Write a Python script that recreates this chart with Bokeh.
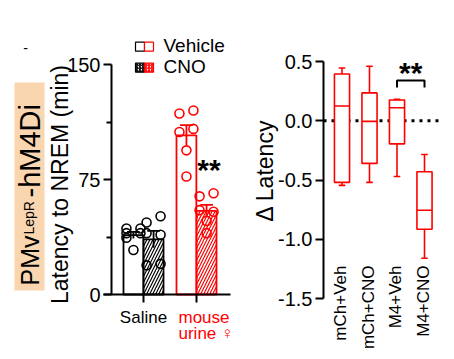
import numpy as np
from bokeh.plotting import figure
from bokeh.models import Range1d, FixedTicker, LinearAxis, PrintfTickFormatter
from bokeh.core.properties import value
from bokeh.embed import file_html
from bokeh.resources import INLINE

# ---------------- data: left panel ----------------
groups = ["Saline", "mouse", "urine \u2640"]
treatments = ["Vehicle", "CNO"]
saline_vehicle = [40, 43, 43, 40, 37, 29]
saline_cno = [47, 51, 40, 39, 19, 20]
urine_vehicle = [118, 120, 106, 108, 94, 77]
urine_cno = [64, 66, 55, 54, 48, 40]
left_yticks = [0, 75, 150]
left_minor = [37.5, 112.5]
left_ylabel = "Latency to NREM (min)"

# ---------------- data: right panel ----------------
box_labels = ["mCh+Veh", "mCh+CNO", "M4+Veh", "M4+CNO"]
box_hi = [0.445, 0.46, 0.18, -0.285]
box_q3 = [0.395, 0.235, 0.175, -0.43]
box_med = [0.125, -0.005, 0.11, -0.755]
box_q1 = [-0.52, -0.36, -0.195, -0.915]
box_lo = [-0.545, -0.52, -0.47, -1.16]
right_yticks = [-1.5, -1.0, -0.5, 0.0, 0.5]
right_ylabel = "\u0394 Latency"

RED = "#FF0000"
BLACK = "#000000"
FONT = "Liberation Sans"

W, H = 450, 355            # figure = frame; page body has no margin here
PX0, PY0 = 0, 0

# left panel: page px -> data
LX0, LDX = 143.0, 53.0
LY0, LDY = 294.0, 230.0 / 150.0
def lx(px): return 1 + (px - LX0) / LDX
def ly(py): return (LY0 - py) / LDY

# right panel: page px -> data
RX0, RDX = 341.5, 27.5
RY0, RDY = 120.25, 118.5
def rx(px): return 1 + (px - RX0) / RDX
def ry(py): return (RY0 - py) / RDY

p = figure(width=W, height=H,
           x_range=Range1d(lx(PX0), lx(PX0 + W)), y_range=Range1d(ly(PY0 + H), ly(PY0)),
           x_axis_location=None, y_axis_location=None,
           output_backend="svg", toolbar_location=None,
           min_border_left=0, min_border_right=0, min_border_top=0, min_border_bottom=0)
p.extra_x_ranges = {"r": Range1d(rx(PX0), rx(PX0 + W))}
p.extra_y_ranges = {"r": Range1d(ry(PY0 + H), ry(PY0))}
p.grid.visible = False
p.outline_line_color = None
p.background_fill_color = "white"

def style_axis(ax):
    ax.axis_line_width = 2
    ax.major_tick_line_width = 2
    ax.minor_tick_line_width = 2
    ax.major_tick_in = 0
    ax.minor_tick_in = 0
    ax.major_label_text_font = FONT
    ax.major_label_text_color = BLACK
    ax.axis_line_color = BLACK
    ax.major_tick_line_color = BLACK
    ax.minor_tick_line_color = BLACK

# left y axis
ly_ax = LinearAxis(ticker=FixedTicker(ticks=left_yticks, minor_ticks=left_minor),
                   bounds=(0, 150), fixed_location=lx(111))
style_axis(ly_ax)
ly_ax.major_tick_out = 8
ly_ax.minor_tick_out = 5
ly_ax.major_label_text_font_size = "20px"
ly_ax.major_label_standoff = 3
p.add_layout(ly_ax, "left")

# left x axis (group ticks without labels; the group names are drawn below)
lx_ax = LinearAxis(ticker=FixedTicker(ticks=[], minor_ticks=[1, 2]),
                   bounds=(lx(103), lx(230)), fixed_location=0)
style_axis(lx_ax)
lx_ax.major_tick_out = 0
lx_ax.minor_tick_out = 8
p.add_layout(lx_ax, "below")

# right y axis
ry_ax = LinearAxis(ticker=FixedTicker(ticks=right_yticks), bounds=(-1.5, 0.5),
                   fixed_location=rx(323), x_range_name="r", y_range_name="r",
                   formatter=PrintfTickFormatter(format="%.1f"))
style_axis(ry_ax)
ry_ax.major_tick_out = 8
ry_ax.minor_tick_out = 0
ry_ax.major_label_text_font_size = "20px"
ry_ax.major_label_standoff = 3
p.add_layout(ry_ax, "left")

def txt(x, y, s, size, color=BLACK, r=False, **k):
    kw = dict(x_range_name="r", y_range_name="r") if r else {}
    p.text(x=[x], y=[y], text=[s], text_font=value(FONT), text_font_size=size,
           text_color=color, **kw, **k)

# ---------------- left panel marks ----------------
sets = [(1, -1, saline_vehicle, BLACK, False), (1, 1, saline_cno, BLACK, True),
        (2, -1, urine_vehicle, RED, False), (2, 1, urine_cno, RED, True)]
OFF, BW = 0.19, 0.375

def spread(vals, step_px=7.0, thr_px=9.0):
    """small beeswarm: points with a close neighbour alternate sides"""
    offs, k = [], 0
    for i, v in enumerate(vals):
        close = any(abs(v - w) * LDY < thr_px for j, w in enumerate(vals) if j != i)
        if close:
            offs.append((-1 if k % 2 == 0 else 1) * step_px / LDX)
            k += 1
        else:
            offs.append(0.0)
    return offs

for g, side, vals, col, hatched in sets:
    xc = g + side * OFF
    m = float(np.mean(vals))
    sem = float(np.std(vals, ddof=1) / np.sqrt(len(vals)))
    kw = dict(hatch_pattern="/", hatch_color=col, hatch_scale=6, hatch_weight=1.2) if hatched else {}
    p.vbar(x=[xc], top=[m], bottom=0, width=BW, fill_color="white",
           line_color=col, line_width=1.8, **kw)
    xs = [xc + o for o in spread(vals)]
    p.scatter(x=xs, y=vals, marker="circle", size=9, line_color=col,
              line_width=1.6, fill_color=None)
    p.segment(x0=[xc], y0=[m - sem], x1=[xc], y1=[m + sem], line_color=col, line_width=1.8)
    p.segment(x0=[xc - 0.12], y0=[m + sem], x1=[xc + 0.12], y1=[m + sem],
              line_color=col, line_width=1.8)

# legend
for yy, hatched, name in [(46.2, False, treatments[0]), (67.2, True, treatments[1])]:
    for px, col in [(139.5, BLACK), (148.5, RED)]:
        kw = dict(hatch_pattern="/", hatch_color=col, hatch_scale=3, hatch_weight=1.2) if hatched else {}
        p.rect(x=[lx(px)], y=[ly(yy)], width=9, height=9, width_units="screen",
               height_units="screen", fill_color="white", line_color=col,
               line_width=1.2, **kw)
    txt(lx(163), ly(yy - 1), name, "19px", text_baseline="middle", text_align="left")

# stars
txt(lx(208.5), ly(169), "**", "30px", text_font_style="bold", text_align="center",
    text_baseline="middle")

# category labels
txt(1, ly(317), groups[0], "17px", text_align="center", text_baseline="middle")
txt(lx(178), ly(317), groups[1], "17px", color=RED, text_align="left", text_baseline="middle")
txt(lx(178), ly(333), groups[2], "17px", color=RED, text_align="left", text_baseline="middle")

# y label
txt(lx(59), ly(184), left_ylabel, "23px", angle=np.pi / 2, text_align="center",
    text_baseline="middle")
txt(lx(25), ly(47), "-", "14px", text_align="center", text_baseline="middle")

# PMv label with background
p.quad(left=[lx(14)], right=[lx(44)], bottom=[ly(290)], top=[ly(82)],
       fill_color="#F9D5B0", line_color=None)
txt(lx(29.5), ly(285), "PMv", "25px", angle=np.pi / 2, text_align="left", text_baseline="middle")
txt(lx(28.0), ly(234), "LepR", "14px", angle=np.pi / 2, text_align="left", text_baseline="middle")
txt(lx(29.5), ly(197), "-hM4Di", "29px", angle=np.pi / 2, text_align="left", text_baseline="middle")

# ---------------- right panel marks ----------------
R = dict(x_range_name="r", y_range_name="r")
xs = list(range(1, len(box_labels) + 1))
p.line(x=[rx(323), rx(440)], y=[0, 0], line_color=BLACK, line_width=3, line_dash="3 5", **R)
BOXW, CAPW = 0.55, 0.24
p.segment(x0=xs, y0=box_q3, x1=xs, y1=box_hi, line_color=RED, line_width=1.6, **R)
p.segment(x0=xs, y0=box_q1, x1=xs, y1=box_lo, line_color=RED, line_width=1.6, **R)
p.segment(x0=[x - CAPW / 2 for x in xs], y0=box_hi, x1=[x + CAPW / 2 for x in xs],
          y1=box_hi, line_color=RED, line_width=1.6, **R)
p.segment(x0=[x - CAPW / 2 for x in xs], y0=box_lo, x1=[x + CAPW / 2 for x in xs],
          y1=box_lo, line_color=RED, line_width=1.6, **R)
p.vbar(x=xs, bottom=box_q1, top=box_q3, width=BOXW, fill_color="white",
       line_color=RED, line_width=1.6, **R)
p.segment(x0=[x - BOXW / 2 for x in xs], y0=box_med, x1=[x + BOXW / 2 for x in xs],
          y1=box_med, line_color=RED, line_width=1.6, **R)

p.text(x=[x - 0.05 for x in xs], y=[ry(265)] * len(xs), text=box_labels,
       text_font=value(FONT), text_font_size="17px", angle=np.pi / 2,
       text_align="right", text_baseline="middle", text_color=BLACK, **R)

p.line(x=[3, 3, 4, 4], y=[ry(87), ry(80), ry(80), ry(87)], line_color=BLACK, line_width=2, **R)
txt(3.5, ry(71.5), "**", "30px", r=True, text_font_style="bold", text_align="center",
    text_baseline="middle")

txt(rx(264), ry(170), right_ylabel, "23px", r=True, angle=np.pi / 2, text_align="center",
    text_baseline="middle")

open("out.html", "w").write(file_html(p, INLINE))
